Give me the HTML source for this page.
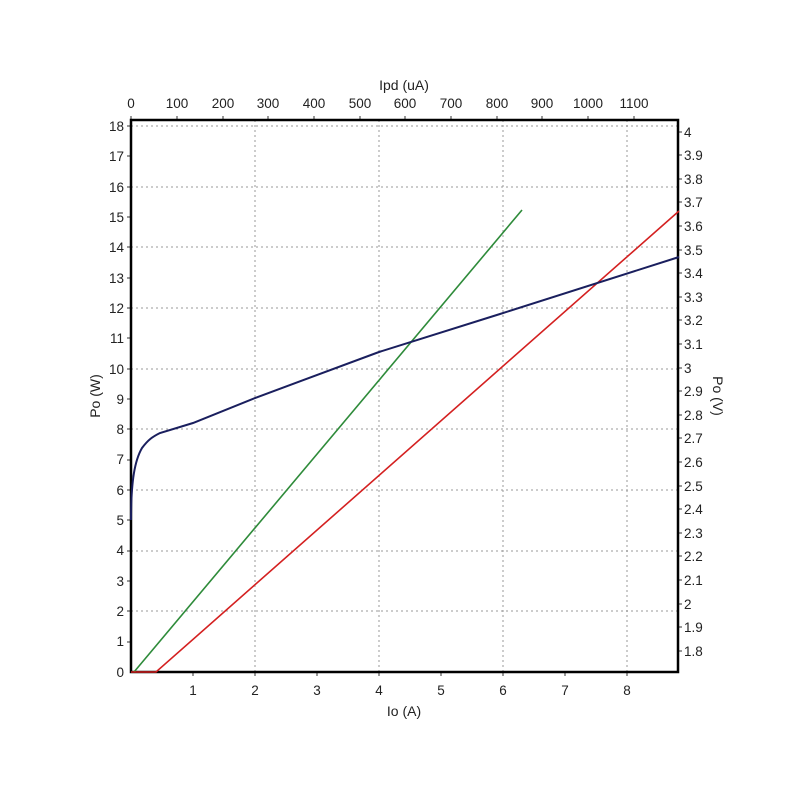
<!DOCTYPE html>
<html><head><meta charset="utf-8"><style>
body{margin:0;background:#fff}
text{font-family:"Liberation Sans",sans-serif;font-size:13.5px;fill:#222}
</style></head><body>
<svg width="800" height="800" xmlns="http://www.w3.org/2000/svg">
<g stroke="#999" stroke-dasharray="2,3" stroke-width="1">
<line x1="131" y1="126" x2="678" y2="126"/>
<line x1="131" y1="187" x2="678" y2="187"/>
<line x1="131" y1="247" x2="678" y2="247"/>
<line x1="131" y1="308" x2="678" y2="308"/>
<line x1="131" y1="369" x2="678" y2="369"/>
<line x1="131" y1="429" x2="678" y2="429"/>
<line x1="131" y1="490" x2="678" y2="490"/>
<line x1="131" y1="551" x2="678" y2="551"/>
<line x1="131" y1="611" x2="678" y2="611"/>
<line x1="255" y1="120" x2="255" y2="672"/>
<line x1="379" y1="120" x2="379" y2="672"/>
<line x1="503" y1="120" x2="503" y2="672"/>
<line x1="627" y1="120" x2="627" y2="672"/>
</g>
<g stroke="#333" stroke-width="1">
<path d="M127,126h4M127,156h4M127,187h4M127,217h4M127,247h4M127,278h4M127,308h4M127,338h4M127,369h4M127,399h4M127,429h4M127,460h4M127,490h4M127,520h4M127,551h4M127,581h4M127,611h4M127,642h4"/>
<path d="M678,132h4M678,155h4M678,179h4M678,202h4M678,226h4M678,250h4M678,273h4M678,297h4M678,320h4M678,344h4M678,368h4M678,391h4M678,415h4M678,438h4M678,462h4M678,486h4M678,509h4M678,533h4M678,556h4M678,580h4M678,604h4M678,627h4M678,651h4"/>
<path d="M193,672v4M255,672v4M317,672v4M379,672v4M441,672v4M503,672v4M565,672v4M627,672v4"/>
<path d="M131,120v-4M177,120v-4M223,120v-4M268,120v-4M314,120v-4M360,120v-4M405,120v-4M451,120v-4M497,120v-4M542,120v-4M588,120v-4M634,120v-4"/>
</g>
<rect x="131" y="120" width="547" height="552" fill="none" stroke="#000" stroke-width="2.5"/>
<g text-anchor="end">
<text x="124" y="677">0</text><text x="124" y="646">1</text><text x="124" y="616">2</text><text x="124" y="586">3</text><text x="124" y="555">4</text><text x="124" y="525">5</text><text x="124" y="495">6</text><text x="124" y="464">7</text><text x="124" y="434">8</text><text x="124" y="404">9</text><text x="124" y="374">10</text><text x="124" y="343">11</text><text x="124" y="313">12</text><text x="124" y="283">13</text><text x="124" y="252">14</text><text x="124" y="222">15</text><text x="124" y="192">16</text><text x="124" y="161">17</text><text x="124" y="131">18</text>
</g>
<g>
<text x="684" y="137">4</text><text x="684" y="160">3.9</text><text x="684" y="184">3.8</text><text x="684" y="207">3.7</text><text x="684" y="231">3.6</text><text x="684" y="255">3.5</text><text x="684" y="278">3.4</text><text x="684" y="302">3.3</text><text x="684" y="325">3.2</text><text x="684" y="349">3.1</text><text x="684" y="373">3</text><text x="684" y="396">2.9</text><text x="684" y="420">2.8</text><text x="684" y="443">2.7</text><text x="684" y="467">2.6</text><text x="684" y="491">2.5</text><text x="684" y="514">2.4</text><text x="684" y="538">2.3</text><text x="684" y="561">2.2</text><text x="684" y="585">2.1</text><text x="684" y="609">2</text><text x="684" y="632">1.9</text><text x="684" y="656">1.8</text>
</g>
<g text-anchor="middle">
<text x="193" y="695">1</text><text x="255" y="695">2</text><text x="317" y="695">3</text><text x="379" y="695">4</text><text x="441" y="695">5</text><text x="503" y="695">6</text><text x="565" y="695">7</text><text x="627" y="695">8</text>
<text x="131" y="108">0</text><text x="177" y="108">100</text><text x="223" y="108">200</text><text x="268" y="108">300</text><text x="314" y="108">400</text><text x="360" y="108">500</text><text x="405" y="108">600</text><text x="451" y="108">700</text><text x="497" y="108">800</text><text x="542" y="108">900</text><text x="588" y="108">1000</text><text x="634" y="108">1100</text>
<text x="404" y="90" style="font-size:14px">Ipd (uA)</text>
<text x="404" y="716" style="font-size:14px">Io (A)</text>
<text transform="translate(100,396) rotate(-90)" style="font-size:14px">Po (W)</text>
<text transform="translate(713,396) rotate(90)" style="font-size:14px">Po (V)</text>
</g>
<polyline fill="none" stroke="#2e8b3a" stroke-width="1.6" points="134,672 522,210"/>
<polyline fill="none" stroke="#d42020" stroke-width="1.6" points="131,672 156,672 679,211"/>
<path fill="none" stroke="#1a1f5e" stroke-width="2" d="M131,520 C131,480 135,460 142,448 C148,440 152,437 160,433 L193,423 L255,398 L379,352 L500,314 L679,257"/>
</svg>
</body></html>
